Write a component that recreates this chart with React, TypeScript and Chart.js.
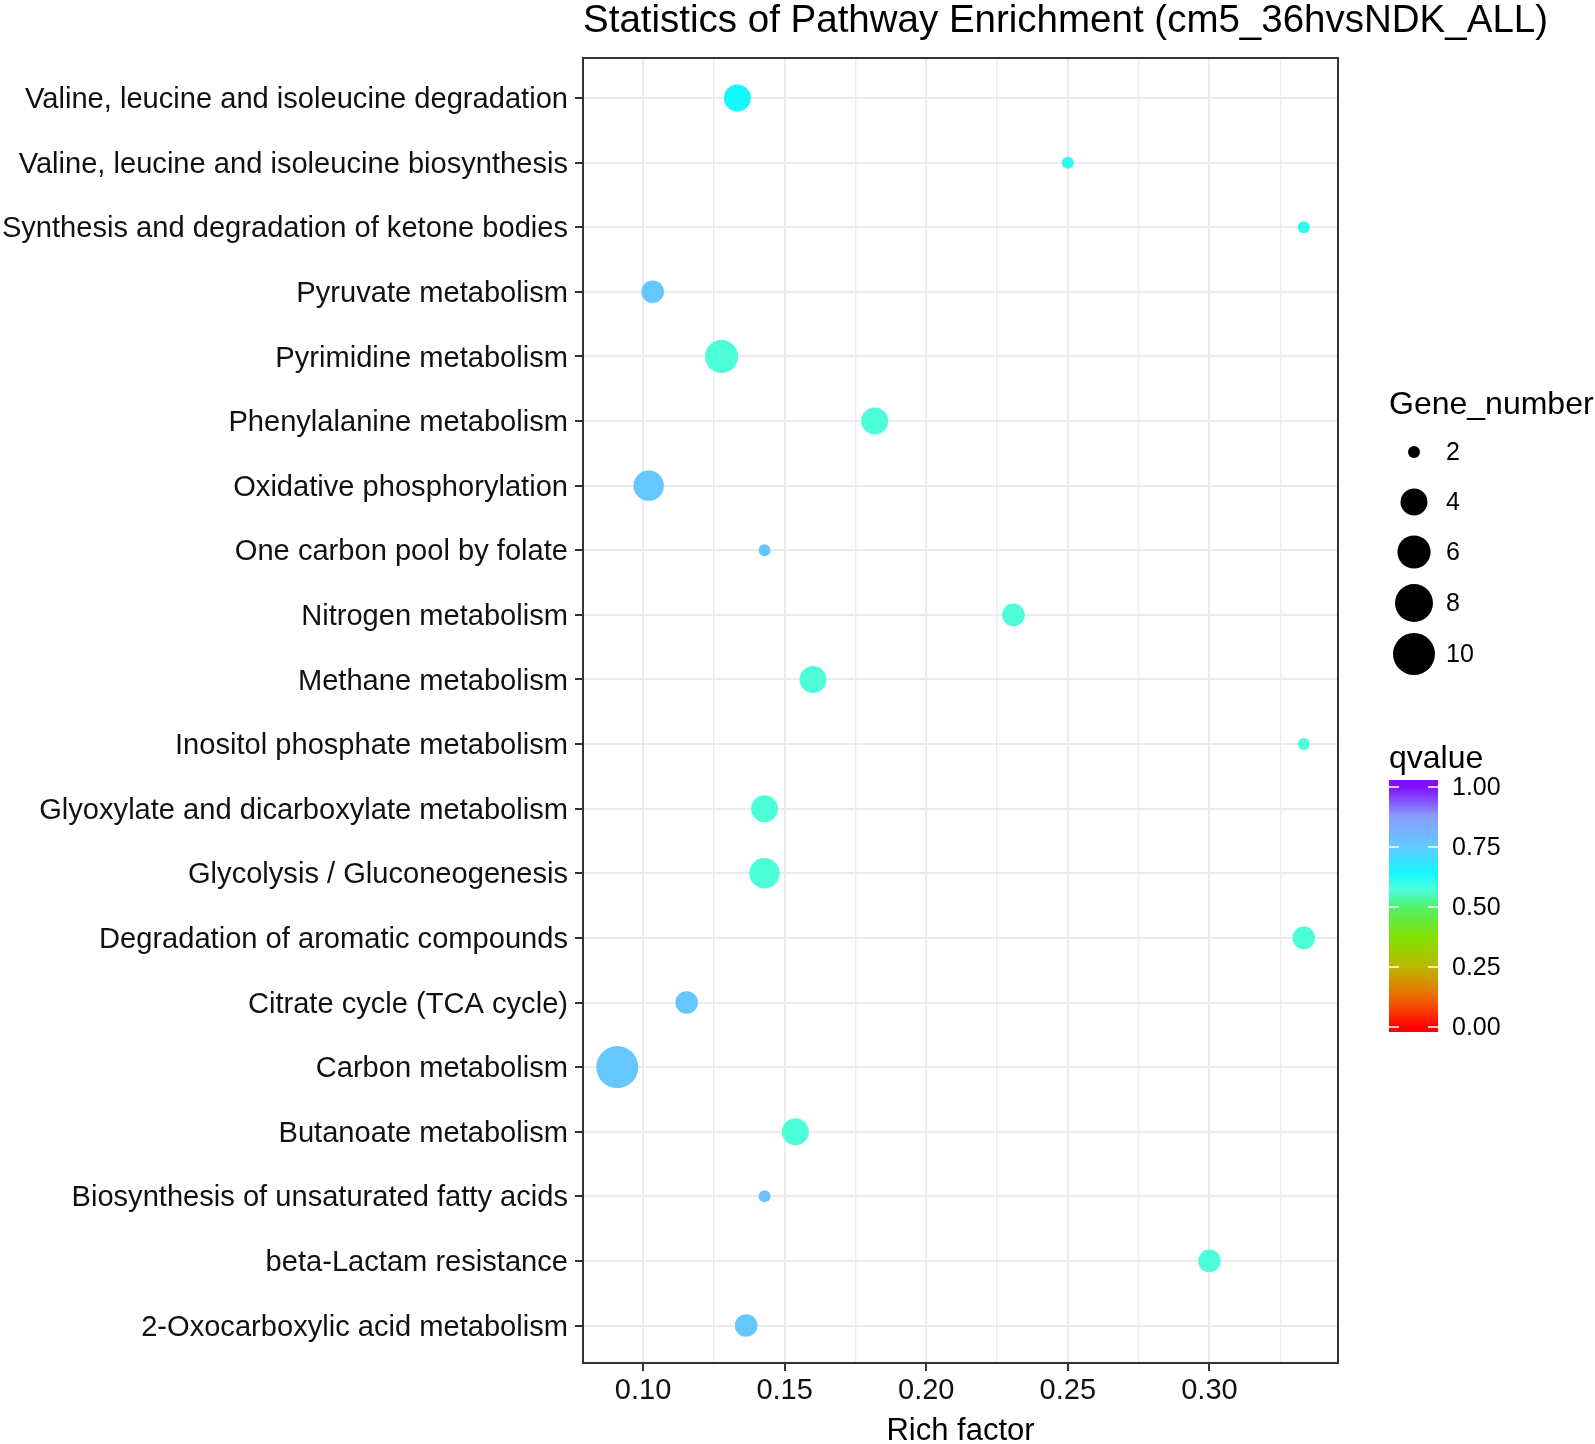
import React, { useEffect, useRef } from "react";
import { Chart, registerables } from "chart.js";

Chart.register(...registerables);

const TITLE = "Statistics of Pathway Enrichment (cm5_36hvsNDK_ALL)";
const X_TITLE = "Rich factor";
const SIZE_LEGEND_TITLE = "Gene_number";
const COLOR_LEGEND_TITLE = "qvalue";

const pathways = [
  "Valine, leucine and isoleucine degradation",
  "Valine, leucine and isoleucine biosynthesis",
  "Synthesis and degradation of ketone bodies",
  "Pyruvate metabolism",
  "Pyrimidine metabolism",
  "Phenylalanine metabolism",
  "Oxidative phosphorylation",
  "One carbon pool by folate",
  "Nitrogen metabolism",
  "Methane metabolism",
  "Inositol phosphate metabolism",
  "Glyoxylate and dicarboxylate metabolism",
  "Glycolysis / Gluconeogenesis",
  "Degradation of aromatic compounds",
  "Citrate cycle (TCA cycle)",
  "Carbon metabolism",
  "Butanoate metabolism",
  "Biosynthesis of unsaturated fatty acids",
  "beta-Lactam resistance",
  "2-Oxocarboxylic acid metabolism",
];

const richFactor = [
  0.1333, 0.25, 0.3333, 0.1034, 0.1277, 0.1818, 0.102, 0.1429, 0.2308, 0.16,
  0.3333, 0.1429, 0.1429, 0.3333, 0.1154, 0.0909, 0.1538, 0.1429, 0.3, 0.1364,
];

const geneNumber = [4, 2, 2, 3, 6, 4, 5, 2, 3, 4, 2, 4, 5, 3, 3, 10, 4, 2, 3, 3];

const qValue = [
  0.64, 0.61, 0.61, 0.76, 0.57, 0.57, 0.76, 0.77, 0.57, 0.57,
  0.57, 0.57, 0.57, 0.57, 0.76, 0.76, 0.57, 0.77, 0.57, 0.76,
];

const xMajorTicks = [0.1, 0.15, 0.2, 0.25, 0.3];
const xMinorTicks = [0.125, 0.175, 0.225, 0.275, 0.325];
const X_MIN = 0.0788;
const X_MAX = 0.3454;
const Y_EXPAND_TOP = 0.62;
const Y_EXPAND_BOTTOM = 0.58;

const sizeLegendValues = [2, 4, 6, 8, 10];
const qLegendTicks = [0, 0.25, 0.5, 0.75, 1];
const SIZE_MIN = 2;
const SIZE_MAX = 10;

const colorStops: [number, string][] = [
  [0, "#FF0000"],
  [0.125, "#EE6A00"],
  [0.25, "#BBB800"],
  [0.375, "#80E200"],
  [0.5, "#4FF26C"],
  [0.57, "#4CFFD8"],
  [0.64, "#14F8FF"],
  [0.76, "#66C6FF"],
  [0.88, "#8A9CFF"],
  [1, "#7F10FF"],
];

const FONT = '"Liberation Sans", Arial, Helvetica, sans-serif';

function hexToRgb(h: string) {
  const n = parseInt(h.slice(1), 16);
  return [(n >> 16) & 255, (n >> 8) & 255, n & 255];
}

function colorFor(q: number) {
  for (let i = 0; i < colorStops.length - 1; i++) {
    const [a, ca] = colorStops[i];
    const [b, cb] = colorStops[i + 1];
    if (q >= a && q <= b) {
      const t = (q - a) / (b - a);
      const A = hexToRgb(ca);
      const B = hexToRgb(cb);
      const c = A.map((v, k) => Math.round(v + (B[k] - v) * t));
      return `rgb(${c[0]},${c[1]},${c[2]})`;
    }
  }
  return colorStops[colorStops.length - 1][1];
}

function radiusFor(g: number) {
  const s = Math.sqrt((g - SIZE_MIN) / (SIZE_MAX - SIZE_MIN));
  return (12 + 30 * s) / 2;
}

const isMajor = (v: number) => Math.abs(v * 20 - Math.round(v * 20)) < 1e-6;

const decorPlugin = {
  id: "decor",
  afterDraw(chart: any) {
    const { ctx, chartArea } = chart;
    ctx.save();
    // panel border
    ctx.strokeStyle = "#333333";
    ctx.lineWidth = 2;
    ctx.strokeRect(
      chartArea.left,
      chartArea.top,
      chartArea.right - chartArea.left,
      chartArea.bottom - chartArea.top
    );

    // title
    ctx.fillStyle = "#000";
    ctx.textBaseline = "middle";
    ctx.textAlign = "left";
    ctx.font = `38.5px ${FONT}`;
    ctx.fillText(TITLE, chartArea.left, 21);

    // size legend
    ctx.font = `32px ${FONT}`;
    ctx.fillText(SIZE_LEGEND_TITLE, 1389, 405);
    const sizeYs = [452, 502, 552, 603, 654];
    ctx.font = `25px ${FONT}`;
    sizeLegendValues.forEach((g, i) => {
      ctx.beginPath();
      ctx.fillStyle = "#000";
      ctx.arc(1414, sizeYs[i], radiusFor(g), 0, Math.PI * 2);
      ctx.fill();
      ctx.fillText(String(g), 1446, sizeYs[i] + 1);
    });

    // color legend
    ctx.font = `32px ${FONT}`;
    ctx.fillText(COLOR_LEGEND_TITLE, 1389, 759);
    const barL = 1389, barR = 1438, barT = 780, barB = 1032;
    const y0 = 1027, y1 = 787;
    const grad = ctx.createLinearGradient(0, y0, 0, y1);
    colorStops.forEach(([p, c]) => grad.addColorStop(p, c));
    ctx.fillStyle = grad;
    ctx.fillRect(barL, barT, barR - barL, barB - barT);
    ctx.strokeStyle = "#FFFFFF";
    ctx.lineWidth = 1.5;
    ctx.font = `25px ${FONT}`;
    qLegendTicks.forEach((q) => {
      const y = y0 + (y1 - y0) * q;
      ctx.beginPath();
      ctx.moveTo(barL, y);
      ctx.lineTo(barL + 10, y);
      ctx.moveTo(barR - 10, y);
      ctx.lineTo(barR, y);
      ctx.stroke();
      ctx.fillStyle = "#000";
      ctx.fillText(q.toFixed(2), 1452, y + 1);
    });
    ctx.restore();
  },
};

export default function App() {
  const ref = useRef<HTMLCanvasElement>(null);

  useEffect(() => {
    if (!ref.current) return;
    const data = pathways.map((_, i) => ({
      x: richFactor[i],
      y: i,
      r: radiusFor(geneNumber[i]),
    }));
    const chart = new Chart(ref.current, {
      type: "bubble",
      data: {
        datasets: [
          {
            data,
            backgroundColor: qValue.map(colorFor),
            borderWidth: 0,
            hoverBorderWidth: 0,
          } as any,
        ],
      },
      plugins: [decorPlugin],
      options: {
        responsive: false,
        animation: false,
        events: [],
        layout: { padding: { left: 0, right: 257, top: 58, bottom: 0 } },
        plugins: {
          legend: { display: false },
          tooltip: { enabled: false },
          title: { display: false },
        },
        scales: {
          x: {
            type: "linear",
            min: X_MIN,
            max: X_MAX,
            afterBuildTicks: (scale: any) => {
              scale.ticks = [...xMajorTicks, ...xMinorTicks]
                .sort((a, b) => a - b)
                .map((v) => ({ value: v }));
            },
            afterFit: (scale: any) => {
              scale.height = 81;
            },
            border: { display: false },
            grid: {
              color: "#EBEBEB",
              lineWidth: (c: any) => (c.tick && isMajor(c.tick.value) ? 2 : 1.3),
              tickColor: (c: any) =>
                c.tick && isMajor(c.tick.value) ? "#333333" : "rgba(0,0,0,0)",
              tickLength: 8,
              tickWidth: 2,
              drawTicks: true,
            },
            ticks: {
              autoSkip: false,
              maxRotation: 0,
              padding: 3,
              color: "#111",
              font: { family: FONT, size: 29 },
              callback: (v: any) => (isMajor(Number(v)) ? Number(v).toFixed(2) : ""),
            },
            title: {
              display: true,
              text: X_TITLE,
              color: "#000",
              font: { family: FONT, size: 31, lineHeight: 1 },
              padding: { top: 0, bottom: -3 },
            },
          },
          y: {
            type: "linear",
            reverse: true,
            min: -Y_EXPAND_TOP,
            max: pathways.length - 1 + Y_EXPAND_BOTTOM,
            afterBuildTicks: (scale: any) => {
              scale.ticks = pathways.map((_, i) => ({ value: i }));
            },
            afterFit: (scale: any) => {
              scale.width = 583;
            },
            border: { display: false },
            grid: {
              color: "#EBEBEB",
              lineWidth: 2,
              tickColor: "#333333",
              tickLength: 8,
              tickWidth: 2,
            },
            ticks: {
              autoSkip: false,
              padding: 7,
              labelOffset: 2,
              color: "#111",
              font: { family: FONT, size: 29.1 },
              callback: (v: any) => pathways[Math.round(Number(v))] ?? "",
            },
          },
        },
      } as any,
    });
    return () => chart.destroy();
  }, []);

  return (
    <div style={{ position: "absolute", left: 0, top: 0, width: 1595, height: 1444, background: "#fff" }}>
      <canvas ref={ref} width={1595} height={1444} style={{ display: "block" }} />
    </div>
  );
}
